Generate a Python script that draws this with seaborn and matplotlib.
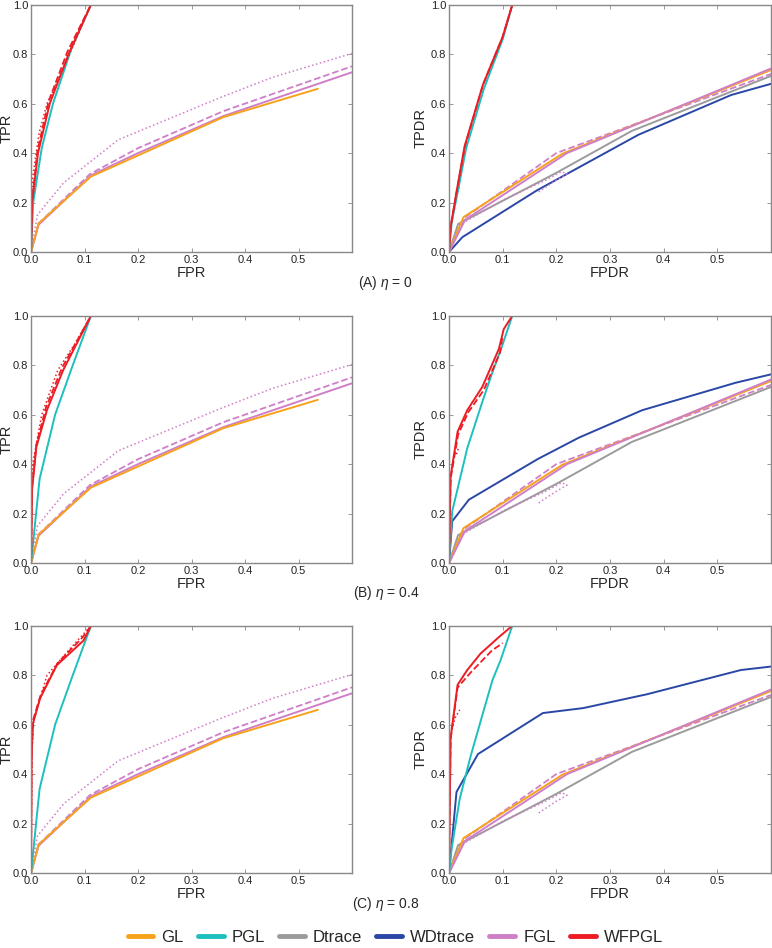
import numpy as np
import pandas as pd
import matplotlib
matplotlib.use("Agg")
import matplotlib.pyplot as plt
from matplotlib.lines import Line2D
import seaborn as sns

sns.set_style("white")
plt.rcParams['font.family'] = ['Liberation Sans', 'DejaVu Sans']
plt.rcParams['mathtext.fontset'] = 'custom'
plt.rcParams['mathtext.it'] = 'Liberation Sans:italic'

methods = ["GL", "PGL", "Dtrace", "WDtrace", "FGL", "WFPGL"]
colors = {"GL": "#F7A21B", "PGL": "#1DBFBF", "Dtrace": "#9B9B9B",
          "WDtrace": "#2A47A6", "FGL": "#CF7FC8", "WFPGL": "#EC1C24"}
captions = ["(A) $\\eta$ = 0", "(B) $\\eta$ = 0.4", "(C) $\\eta$ = 0.8"]

# ---------------- ROC (FPR, TPR) data: shared curves ----------------
gl_fpr = [0.0, 0.014, 0.112, 0.359, 0.536]
gl_tpr = [0.0, 0.115, 0.305, 0.545, 0.66]
fgl_fpr = [0.0, 0.014, 0.112, 0.2, 0.36, 0.6]
fgl_tpr = [0.0, 0.11, 0.31, 0.4, 0.55, 0.727]
fgl_d_fpr = [0.0, 0.014, 0.11, 0.2, 0.36, 0.6]
fgl_d_tpr = [0.0, 0.115, 0.315, 0.42, 0.57, 0.751]
fgl_o_fpr = [0.0, 0.012, 0.061, 0.163, 0.36, 0.452, 0.6]
fgl_o_tpr = [0.0, 0.15, 0.28, 0.454, 0.63, 0.707, 0.803]

# PGL per eta
pgl_fpr = [[0.0, 0.004, 0.02, 0.041, 0.075, 0.112],
           [0.0, 0.016, 0.045, 0.078, 0.112],
           [0.0, 0.016, 0.045, 0.078, 0.112]]
pgl_tpr = [[0.0, 0.2, 0.42, 0.6, 0.82, 1.0],
           [0.0, 0.34, 0.6, 0.8, 1.0],
           [0.0, 0.34, 0.6, 0.8, 1.0]]
# WFPGL per eta (solid, dashed, dotted)
wf_fpr = [[0.0, 0.002, 0.013, 0.035, 0.07, 0.112],
          [0.0, 0.002, 0.01, 0.03, 0.06, 0.112],
          [0.0, 0.001, 0.003, 0.017, 0.048, 0.098, 0.112]]
wf_tpr = [[0.0, 0.2, 0.4, 0.6, 0.8, 1.0],
          [0.0, 0.3, 0.47, 0.62, 0.78, 1.0],
          [0.0, 0.45, 0.6, 0.707, 0.84, 0.94, 1.0]]
wf_d_fpr = [[0.0, 0.002, 0.012, 0.033, 0.068, 0.112],
            [0.0, 0.002, 0.01, 0.028, 0.058, 0.112],
            [0.0, 0.001, 0.004, 0.018, 0.05, 0.095, 0.112]]
wf_d_tpr = [[0.0, 0.21, 0.41, 0.61, 0.81, 1.0],
            [0.0, 0.31, 0.48, 0.63, 0.79, 1.0],
            [0.0, 0.47, 0.62, 0.72, 0.85, 0.95, 1.0]]
wf_o_fpr = [[0.0, 0.003, 0.015, 0.03, 0.06, 0.112],
            [0.0, 0.003, 0.02, 0.05, 0.08, 0.112],
            [0.0, 0.002, 0.005, 0.03, 0.07, 0.112]]
wf_o_tpr = [[0.0, 0.3, 0.48, 0.6, 0.74, 1.0],
            [0.0, 0.4, 0.6, 0.78, 0.88, 1.0],
            [0.0, 0.5, 0.62, 0.8, 0.9, 1.0]]

# ---------------- (FPDR, TPDR) data ----------------
gl2_x = [0.0, 0.027, 0.211, 0.6]
gl2_y = [0.0, 0.141, 0.397, 0.736]
fgl2_x = [0.0, 0.03, 0.22, 0.6]
fgl2_y = [0.0, 0.13, 0.40, 0.742]
fgl2_d_x = [0.0, 0.03, 0.2, 0.6]
fgl2_d_y = [0.0, 0.14, 0.40, 0.72]
fgl2_o_x = [0.0, 0.02, 0.1, 0.18, 0.21, 0.22, 0.2, 0.165]
fgl2_o_y = [0.0, 0.11, 0.21, 0.29, 0.325, 0.315, 0.29, 0.24]
dt2_x = [0.0, 0.017, 0.032, 0.2, 0.341, 0.6]
dt2_y = [0.0, 0.113, 0.13, 0.32, 0.49, 0.712]
wdt2_x = [[0.0, 0.025, 0.163, 0.353, 0.526, 0.6],
          [0.0, 0.006, 0.037, 0.165, 0.242, 0.36, 0.534, 0.6],
          [0.0, 0.014, 0.054, 0.175, 0.25, 0.369, 0.544, 0.6]]
wdt2_y = [[0.0, 0.06, 0.248, 0.474, 0.635, 0.68],
          [0.0, 0.169, 0.256, 0.42, 0.507, 0.618, 0.729, 0.763],
          [0.0, 0.328, 0.481, 0.647, 0.667, 0.723, 0.821, 0.835]]
pgl2_x = [[0.0, 0.005, 0.016, 0.032, 0.065, 0.1, 0.118],
          [0.0, 0.006, 0.034, 0.062, 0.081, 0.096, 0.118],
          [0.0, 0.005, 0.02, 0.04, 0.065, 0.081, 0.096, 0.118]]
pgl2_y = [[0.0, 0.12, 0.24, 0.42, 0.66, 0.86, 1.0],
          [0.0, 0.209, 0.464, 0.651, 0.772, 0.859, 1.0],
          [0.0, 0.1, 0.3, 0.47, 0.66, 0.78, 0.86, 1.0]]
wf2_x = [[0.0, 0.003, 0.0136, 0.029, 0.063, 0.1, 0.118],
         [0.0, 0.003, 0.016, 0.034, 0.062, 0.093, 0.102, 0.118],
         [0.0, 0.003, 0.016, 0.034, 0.059, 0.094, 0.118]]
wf2_y = [[0.0, 0.1, 0.238, 0.427, 0.675, 0.87, 1.0],
         [0.0, 0.35, 0.531, 0.618, 0.712, 0.866, 0.946, 1.0],
         [0.0, 0.546, 0.761, 0.821, 0.888, 0.956, 1.0]]
wf2_d_x = [[0.0, 0.003, 0.014, 0.03, 0.064, 0.1, 0.118],
           [0.0, 0.003, 0.017, 0.036, 0.065, 0.095, 0.1],
           [0.0, 0.003, 0.016, 0.04, 0.08, 0.1]]
wf2_d_y = [[0.0, 0.1, 0.24, 0.43, 0.68, 0.87, 1.0],
           [0.0, 0.34, 0.52, 0.61, 0.70, 0.85, 0.92],
           [0.0, 0.54, 0.75, 0.81, 0.90, 0.93]]
wf2_o_x = [[0.012, 0.016, 0.02],
           [0.014, 0.017, 0.02],
           [0.005, 0.012, 0.02]]
wf2_o_y = [[0.23, 0.25, 0.26],
           [0.44, 0.46, 0.47],
           [0.58, 0.63, 0.66]]

fig = plt.figure(figsize=(7.72, 9.48), dpi=100)
rows_bottom = [0.7342, 0.4061, 0.0791]
row_h = 0.2608

def style_ax(ax, xlabel, ylabel, ylab_x):
    ax.set_xlim(0, 0.6)
    ax.set_ylim(0, 1.0)
    ax.set_xticks([0, 0.1, 0.2, 0.3, 0.4, 0.5])
    ax.set_yticks([0, 0.2, 0.4, 0.6, 0.8, 1.0])
    ax.set_xticklabels(["0.0", "0.1", "0.2", "0.3", "0.4", "0.5"])
    ax.set_yticklabels(["0.0", "0.2", "0.4", "0.6", "0.8", "1.0"])
    ax.tick_params(direction="in", length=3, width=0.6, colors="#888888",
                   labelcolor="#222222", labelsize=8, top=True, right=True,
                   bottom=True, left=True, pad=2)
    for s in ax.spines.values():
        s.set_color("#888888")
        s.set_linewidth(1.0)
    ax.set_xlabel(xlabel, fontsize=10.5, labelpad=1)
    ax.set_ylabel(ylabel, fontsize=10.5)
    ax.yaxis.set_label_coords(ylab_x, 0.5)
    if ax.get_legend() is not None:
        ax.get_legend().remove()

def ln(ax, x, y, m, ls="-", lw=1.4):
    sns.lineplot(x=x, y=y, ax=ax, color=colors[m], linestyle=ls, linewidth=lw,
                 sort=False, estimator=None, legend=False)

for r in range(3):
    axl = fig.add_axes([0.0402, rows_bottom[r], 0.4158, row_h])
    axr = fig.add_axes([0.5816, rows_bottom[r], 0.417, row_h])
    # left panel
    ln(axl, fgl_o_fpr, fgl_o_tpr, "FGL", ":", 1.1)
    ln(axl, fgl_d_fpr, fgl_d_tpr, "FGL", "--", 1.3)
    ln(axl, fgl_fpr, fgl_tpr, "FGL", "-")
    ln(axl, gl_fpr, gl_tpr, "GL", "-")
    ln(axl, pgl_fpr[r], pgl_tpr[r], "PGL", "-")
    ln(axl, wf_o_fpr[r], wf_o_tpr[r], "WFPGL", ":", 1.1)
    ln(axl, wf_d_fpr[r], wf_d_tpr[r], "WFPGL", "--", 1.3)
    ln(axl, wf_fpr[r], wf_tpr[r], "WFPGL", "-")
    style_ax(axl, "FPR", "TPR", -0.053)
    # right panel
    ln(axr, wdt2_x[r], wdt2_y[r], "WDtrace", "-")
    ln(axr, dt2_x, dt2_y, "Dtrace", "-")
    ln(axr, fgl2_o_x, fgl2_o_y, "FGL", ":", 1.1)
    ln(axr, fgl2_d_x, fgl2_d_y, "FGL", "--", 1.3)
    ln(axr, gl2_x, gl2_y, "GL", "-")
    ln(axr, fgl2_x, fgl2_y, "FGL", "-")
    ln(axr, pgl2_x[r], pgl2_y[r], "PGL", "-")
    ln(axr, wf2_o_x[r], wf2_o_y[r], "WFPGL", ":", 1.1)
    ln(axr, wf2_d_x[r], wf2_d_y[r], "WFPGL", "--", 1.3)
    ln(axr, wf2_x[r], wf2_y[r], "WFPGL", "-")
    style_ax(axr, "FPDR", "TPDR", -0.065)
    cap_y = [1 - 283 / 948, 1 - 593 / 948, 1 - 904 / 948][r]
    fig.text(0.5, cap_y, captions[r], ha="center", va="center", fontsize=10)

handles = [Line2D([0], [0], color=colors[m], linewidth=3.5) for m in methods]
fig.legend(handles, methods, loc="center", bbox_to_anchor=(0.512, 1 - 937 / 948),
           ncol=6, frameon=False, fontsize=12, handlelength=1.55,
           columnspacing=0.85, handletextpad=0.48)

fig.savefig("out.png", dpi=100)
